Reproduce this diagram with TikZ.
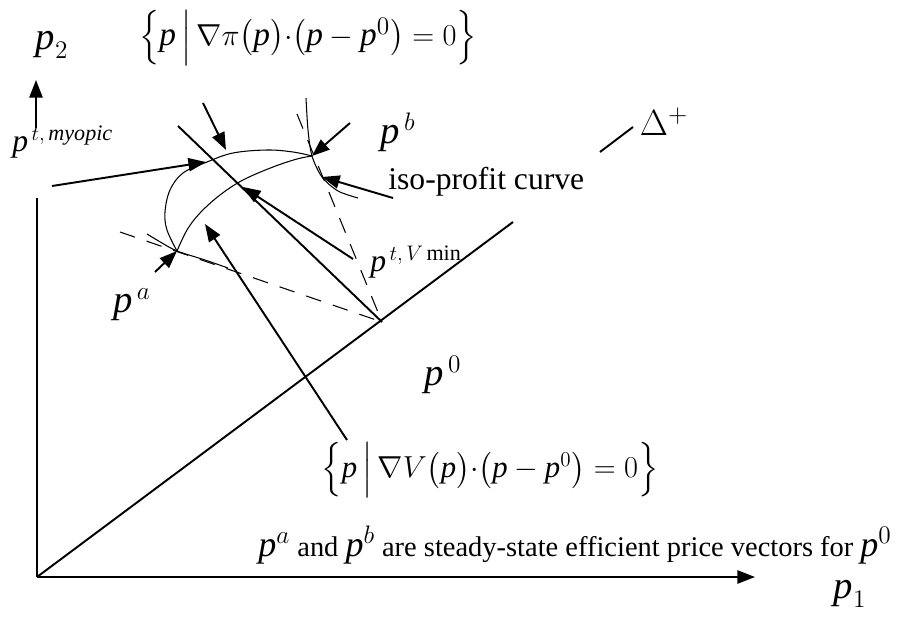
\documentclass[tikz,border=0pt]{standalone}
\usepackage{amsmath}
\usepackage{fontspec}
\setmainfont{Liberation Serif}
\newfontface\pitface{Liberation Serif Italic}
\usetikzlibrary{arrows.meta, positioning, calc}
\newcommand{\pv}{\text{\pitface p}}
\newcommand{\bigp}[1]{{\fontsize{20.5}{22}\selectfont$\pv^{#1}$}}
\tikzset{
  axis/.style={line width=1.1pt},
  pointer/.style={-{Triangle[length=10pt,width=7.5pt]}, line width=1.1pt},
  curve/.style={line width=0.6pt},
  dashline/.style={line width=0.6pt, dash pattern=on 9pt off 7pt},
  lbl/.style={inner sep=0pt, font=\fontsize{22}{24}\selectfont},
  smalllbl/.style={inner sep=0pt, font=\fontsize{18}{20}\selectfont},
  txt/.style={inner sep=0pt, font=\fontsize{18}{20}\selectfont},
}

\begin{document}
\begin{tikzpicture}[x=0.02cm, y=-0.02cm]
    \useasboundingbox (0,0) rectangle (905,625);
    % Key points
    \coordinate (O) at (37,577);
    \coordinate (P0) at (382,322);
    \coordinate (A) at (177,251);
    \coordinate (B) at (312,156);
    \coordinate (M) at (206,162);
    \coordinate (Vm) at (243,187);
    % Axes
    \coordinate (yTop) at (37,198);
    \coordinate (xEnd) at (755,577);
    \draw[axis] (O) -- (yTop);
    \draw[axis, -{Triangle[length=10pt,width=7.5pt]}] (O) -- (xEnd);
    \coordinate (yArrFrom) at (36,128);
    \coordinate (yArrTo) at (36,80);
    \draw[axis, -{Triangle[length=10pt,width=7.5pt]}] (yArrFrom) -- (yArrTo);
    \node[lbl] (p2) at (52,45) {$\pv_2$};
    \node[lbl] (p1) at (850,594) {$\pv_1$};
    % Diagonal
    \coordinate (diagEnd) at (513,222);
    \coordinate (deltaFrom) at (600,152);
    \coordinate (deltaTo) at (633,127);
    \draw[axis] (O) -- (diagEnd);
    \draw[axis] (deltaFrom) -- (deltaTo);
    \node[lbl] (delta) at (664,122) {$\Delta^{+}$};
    % Tangent line and dashed lines to p0
    \coordinate (tanTop) at (178,126);
    \draw[axis] (tanTop) -- (P0);
    \coordinate (dashA) at (120,232);
    \coordinate (dashB) at (297,114);
    \draw[dashline] (dashA) -- (P0);
    \draw[dashline] (dashB) -- (P0);
    % The two curves between pa and pb
    \draw[curve] plot[smooth, tension=0.6] coordinates {(177,251) (167,230) (165,212) (170,190) (183,173) (207,162) (233,153) (267,150) (293,152) (312,156)};
    \draw[curve] plot[smooth, tension=0.6] coordinates {(177,251) (187,230) (200,213) (220,195) (243,180) (273,167) (297,159) (312,156)};
    % Iso-profit curves
    \draw[curve] plot[smooth] coordinates {(306,98) (308,130) (312,156) (322,177) (338,191) (358,198)};
    \draw[curve] plot[smooth] coordinates {(147,234) (162,243) (177,251) (205,260) (228,268)};
    % Labels
    \node[lbl, font=\fontsize{19}{21}\selectfont] (gradpi) at (308,38) {$\Bigl\{\pv\,\Big|\,\nabla\pi\bigl(\pv\bigr){\cdot}\bigl(\pv-\pv^{0}\bigr)=0\Bigr\}$};
    \node[lbl, font=\fontsize{17.5}{19}\selectfont] (gradV) at (490,470) {$\Bigl\{\pv\,\Big|\,\nabla V\bigl(\pv\bigr){\cdot}\bigl(\pv-\pv^{0}\bigr)=0\Bigr\}$};
    \node[lbl] (pb) at (398,132) {$\pv^{\,b}$};
    \node[lbl] (pa) at (132,305) {$\pv^{\,a}$};
    \node[lbl] (p0) at (443,375) {$\pv^{\,0}$};
    \node[smalllbl, anchor=west] (pmyo) at (12,142) {$\pv^{\,t,\,\scriptstyle\textit{myopic}}$};
    \node[smalllbl, anchor=west] (pvmin) at (370,262) {$\pv^{\,t,\,V\,\textup{min}}$};
    \node[txt, anchor=west] (iso) at (388,182) {iso-profit curve};
    \node[inner sep=0pt, anchor=west, font=\fontsize{16.2}{18}\selectfont] (note) at (258,545) {\bigp{a} and \bigp{b} are steady-state efficient price vectors for \bigp{0}};
    % Pointers
    \coordinate (gradpiTail) at (203,103);
    \coordinate (gradpiTip) at (226,150);
    \draw[pointer] (gradpiTail) -- (gradpiTip);
    \coordinate (myoTail) at (52,186);
    \draw[pointer] (myoTail) -- (M);
    \coordinate (pbTail) at (350,123);
    \draw[pointer] (pbTail) -- (B);
    \coordinate (isoTail) at (393,198);
    \coordinate (isoTip) at (322,177);
    \draw[pointer] (isoTail) -- (isoTip);
    \coordinate (vminTail) at (353,259);
    \draw[pointer] (vminTail) -- (Vm);
    \coordinate (gradVTail) at (347,440);
    \coordinate (gradVTip) at (205,224);
    \draw[pointer] (gradVTail) -- (gradVTip);
    \coordinate (paTail) at (155,272);
    \draw[pointer] (paTail) -- (A);
\end{tikzpicture}
\end{document}
